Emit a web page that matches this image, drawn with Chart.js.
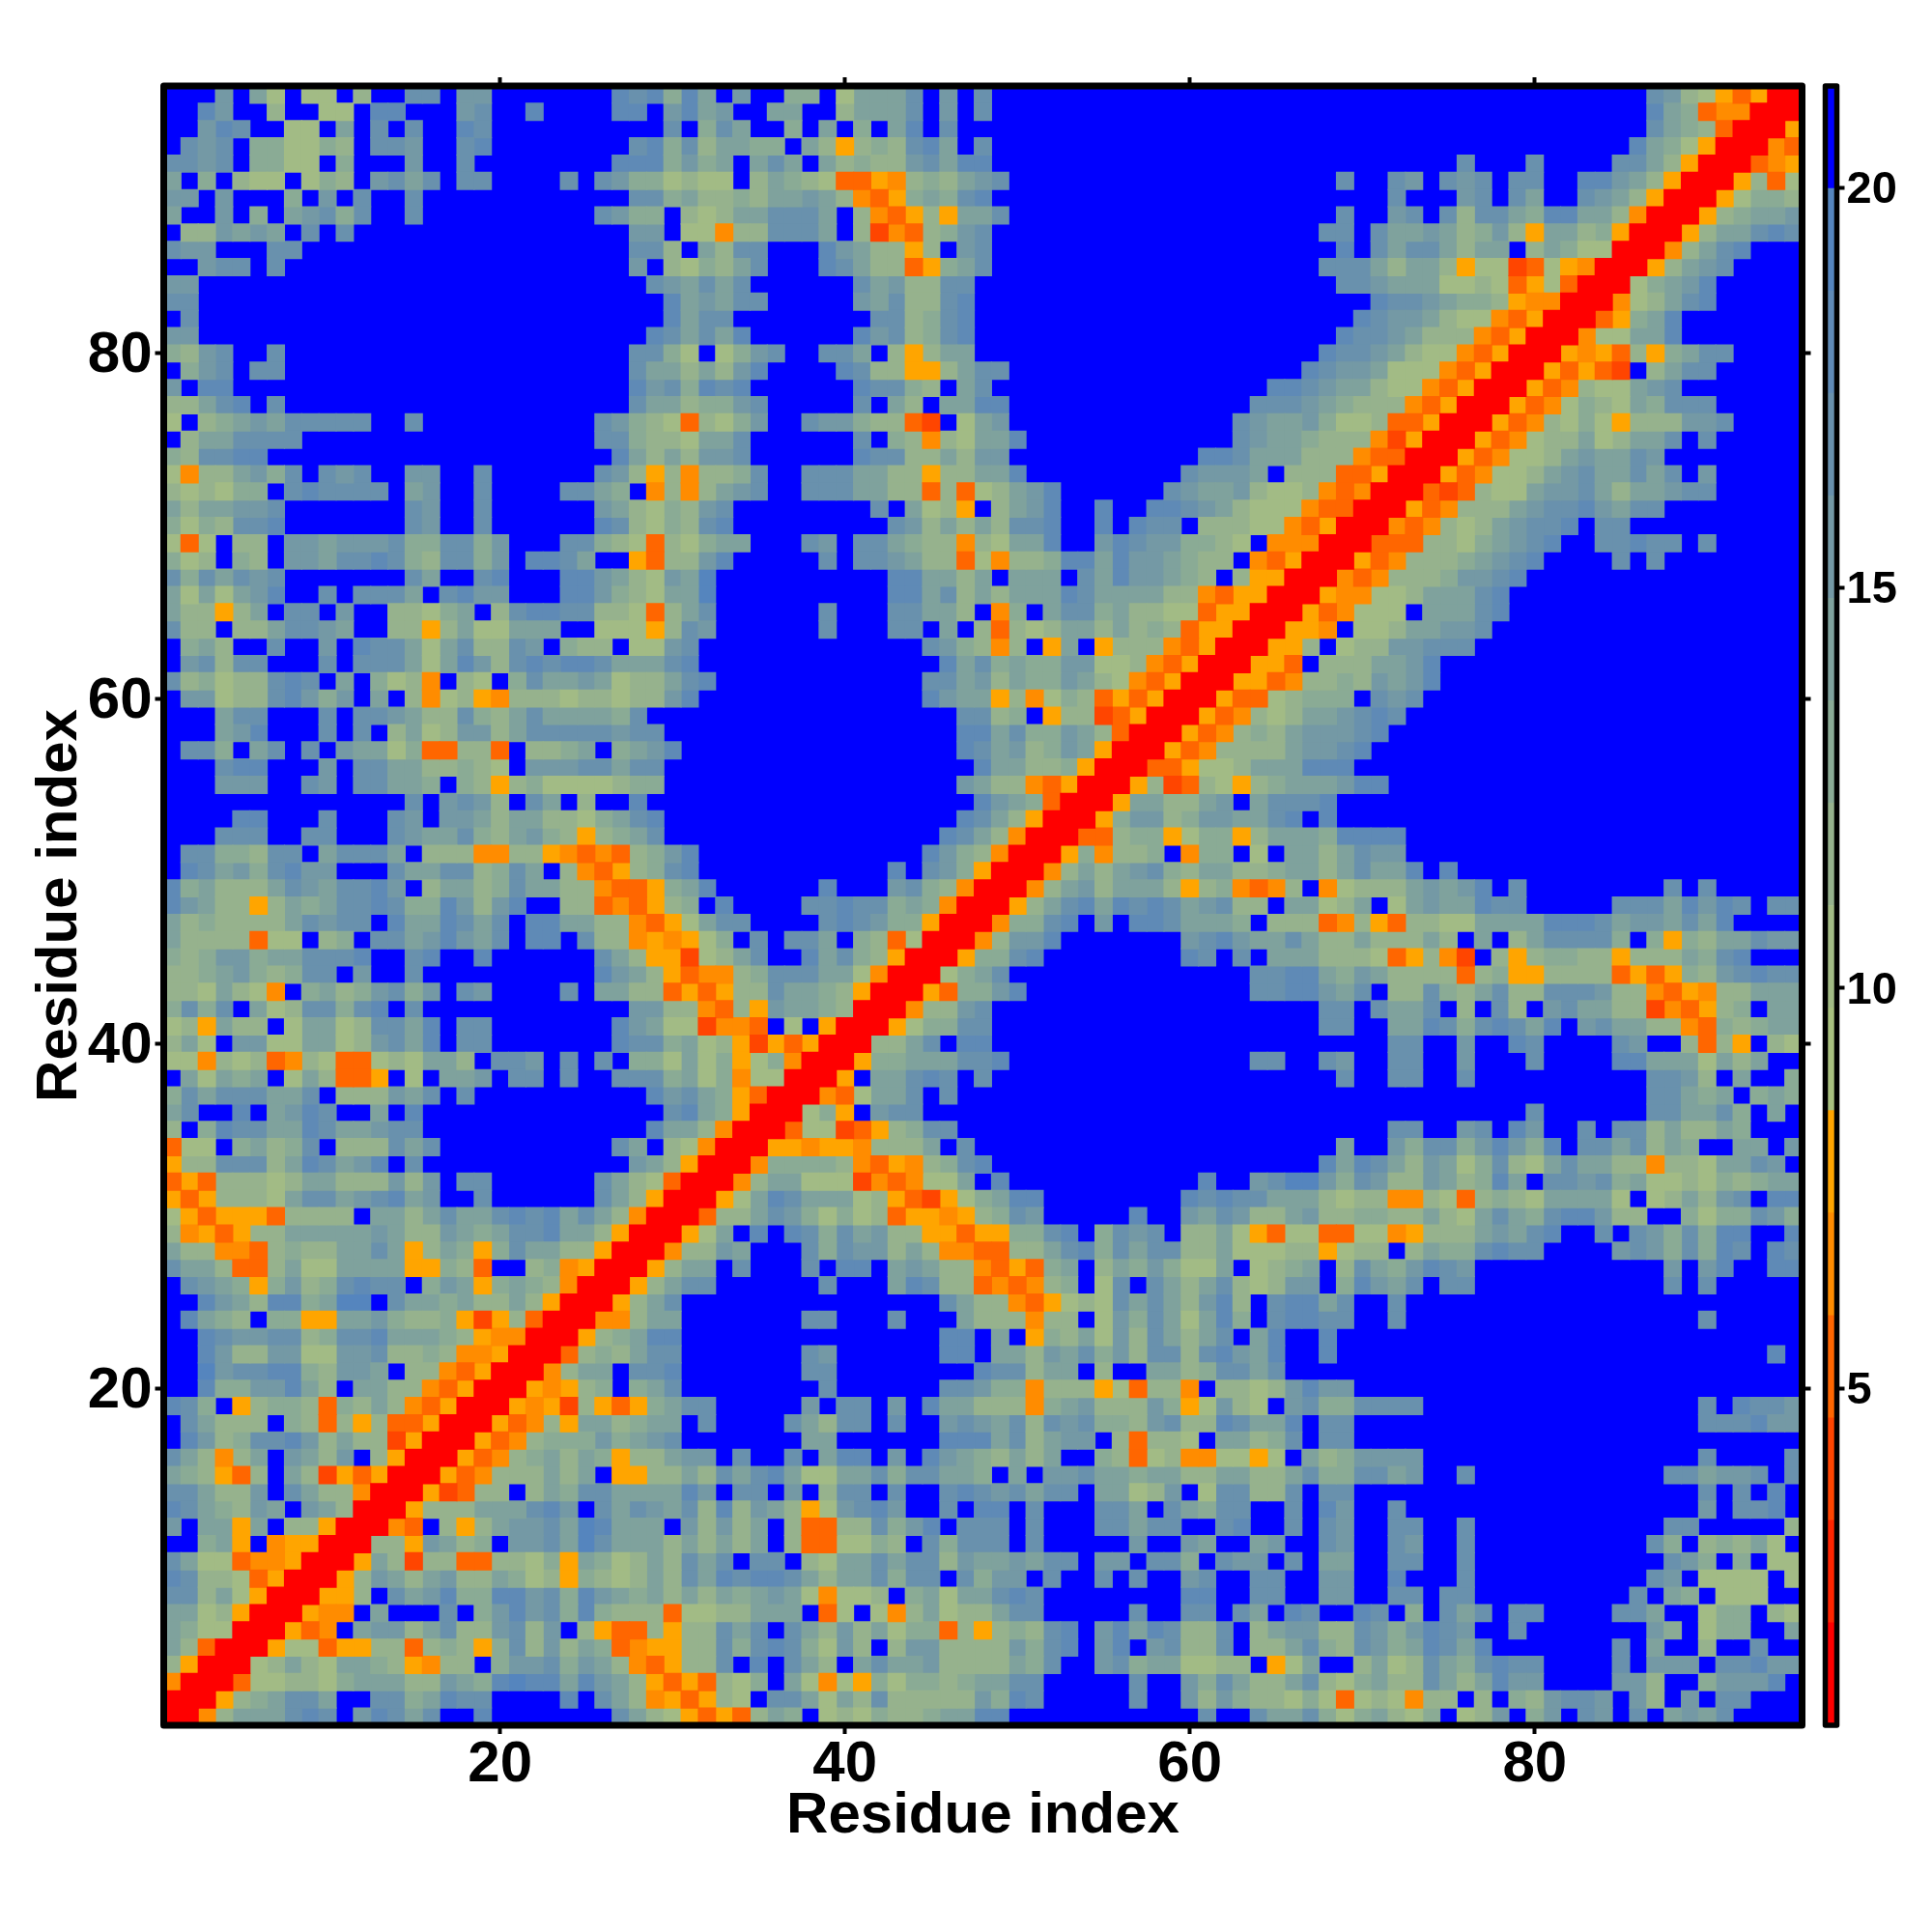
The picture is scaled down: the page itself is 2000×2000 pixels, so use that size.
<!DOCTYPE html>
<html>
<head>
<meta charset="utf-8">
<title>Residue distance map</title>
<script src="https://cdn.jsdelivr.net/npm/chart.js@4"></script>
<style>
body { margin: 0; background: #fff; }
canvas { position: absolute; top: 0; }
#map { left: 0; }
#bar { left: 1880px; }
</style>
</head>
<body>
<canvas id="map" width="1880" height="2000"></canvas>
<canvas id="bar" width="120" height="2000"></canvas>
<script>
// colour level of each cell: 0 (red, close) .. f (blue, far), [n] = n blue cells
// the map is symmetric, so only the part with column <= row is listed
// columns 1-32, rows 95 down to 1
const rowsLeft = [
  'fffbfa7f77f8ffccfbb[7]dcd9da', 'ffdbff8ff77fddfffbcffdffffddfbda', 'ffbdcff77fafcfcffdc[10]cf9',
  'fcbcf997798fccbffcd[8]cd9c8', 'ccbcf9977f9fffbffc[8]ddd9b9', 'af9f877f798fbcacfcc[4]cfcb99787',
  'bbfbfff9fbfcffc[12]cc9a8', 'affbf9fabc9cffc[10]cb99f87', 'f88babafcfc[16]bbf77',
  'cbbfffcc[19]cc8fa', 'ffbccfc[20]bf879', 'bb[26]cbac', 'cc[27]dab', 'fc[27]dac', 'bb[26]dcac',
  '98bcffc[20]cc97f', 'f9bcfcc[20]caa8a', 'bfdd[23]dbc9d', '88acdfc[20]caa89',
  '7f89abacccccffc[10]cb98738', 'f8aacccc[17]cc9887a', '98ccdd[20]da8a8b',
  '7488ab9cfcbcffbbffc[6]cb85848', '878799fcdccccfabffc[4]cca9f4848', 'a8aabbc[7]cbffc[6]ba8798b',
  '9798ccd[7]cbffc[6]dc8798c', '737f88fbbabbbc99cc9bfffcc9873879', '978f98fbbaccdc98cc9bfddcaff5388b',
  'c9cacbc[7]caffcdfffddba87bae', 'a7a7abdffcfcccafcdbbfffddb987aae', 'a8858afccfbff8879af8cddcc88738ac',
  'c88f88accbaff8858a77aaaff77758cb',
  'f9a8ffcffbfdcca7ac88cbf988f77bcf', 'fbc8ccfffcfccca7adb8cdcddcaaacdf', 'c89788cdcfaf9784f87f9caaba788acd',
  'fbb788cdb9bfaf847854888788788bdf', 'fffaccfffcfccba88c98acaaaa9cffff', 'fffabdfffcfcf8a78bb8acccccbccfff',
  'fcc9facfcfbaa7933883f889af9abdff', 'fffcddfffbfccaa88987fbbbccaccfff', 'fffbbbffcbfccaa9f985897777899fff',
  '[14]cfbcb8fcaf8ffdffff', 'ffffddfffcfffcbfbba8aa8879acdfff', 'fffcccffccfffcbaac98ab98589acfff',
  'fcc998ccfacccaf88844885434389bdf', 'fdcab9cdbbfffcaacc89caf843589cdf', 'd9a888acbaccdbf8aa89caa8843359ad',
  'dba8858a9accdc99db8bdff88343589f', 'a898888acbccfdaadcacfddaa884357a', 'a8888377f89fccabdbacfddfc8845457',
  '989bb9aacccdffcdffd[6]ca85527', '889ab989ccfbffc[10]dba8534', '887a874f9a89bc9bfcbffffcfaa88353',
  '9c9cfa78cc9cdfc[12]bb884', '785a88f7aa78ccadfcc[7]dba772', '8a7fbb77aa78bcadfcc[7]dcc9a7',
  '774878348733787aa8fccbfcfcf997a7', 'fa7a9af7a8335f7faabfccfcffccc9a7', '9cacccaacf888bacfc[10]dbca',
  'acffdfabdcffafd[14]cda', '8f9dccaadcaabcc[13]daa8', '377f9a89cf888cac[10]caf874',
  '588ccc8adcabdfc[12]ba850', '35388878aa888b8bfcc[6]ca87300',
  '5358887accabcdabffc[6]ca8500', '75355538888faa8acaacdcdaca8400', '8453588aaaaaba88ba9accdaa8500',
  'a884438988aaca58a959caa88500', 'caa8338a77aaaa55983ff894500', 'fcba959b89cdccf9ba59a98400',
  'ffdba8dd9aeefcaa9a88a8500', 'fda98f9955aab98895258300', 'ffdcbbcc89ccdaaa9854400',
  'ffdb88bb77bbc889844500', 'ffebccdd98bbaf8843500', 'ffd99bbda8faa8843500', 'dc9f58998398a843500',
  'fca888f98385833500', 'fdb89ccdb8a882500', 'ca848afba8bf8500', 'a98538fa8253500', 'cca88bfca88400',
  'dca98bafba800', 'bfaa5af88500', 'ff9a5f45500', 'ca77344500', 'dc8873500', 'cc8a7500', 'aa78500',
  'a97700', 'a8300', '8500', '400', '00', '0'
];
// columns 33-64, rows 95 down to 33
const rowsMiddle = [
  'fbff99f7aaacfbfc[16]', 'bffaaff8aaacfbfc[16]', 'caff9faf9fadfc[18]', 'aa99fa85898cdafc[16]',
  'afacafa8988bcadd[16]', '7f8a9873354898abc[15]', '898aaba84359a9cd[16]', '8aacccaf843585aac[15]',
  '488cccaf824389bc[16]', '8ccfffdba8858fbc[16]', '8acfffdca88359ac[16]', 'ac[6]cab88cc[17]',
  'acc[5]bac88cd[17]', 'c[8]cc89cd[17]', 'ad[6]dbc89cd[17]', '79bcffccaf858aa[17]', '8bd[4]dc88558acc[15]',
  'cd[6]dcc98fac[16]', '9bc[5]cfa8faadd[14]c', '79bffcbb98832f7ab[13]cb', 'ac[6]cf98487aad[12]cb',
  'bc[6]dcc88a8bb[11]ddca', '89cffcccaa88588aad[9]cbbba', 'abcffcccaa8838378abd[6]cbaab8',
  'c[8]cfa785f8abdffdffddcba87', 'd[9]cb8a8a8ccdffdfdccf8887', 'aafffcbfcca988487aadffbdcbb9987f',
  'd[5]cfccba88374889ddadbba988f4', '[10]ddaa8afaaafcadbba98f85', '[10]ddac8a8aaadcaaaa884355',
  '[6]c[3]ccaa8f49facc9a88773550', '[6]c[3]ccfaf83878aa8a89835500',
  '[12]cb9848f5af588843500', '[13]dac9a99bb77843500', '[12]ccab8a99ba8743500', '[12]dbaa584798353500',
  '[14]cc89f58823500', '[14]ddac99ba8300', '[14]dcab89ba500', '[15]daa889500', '[14]ba8843500',
  '[15]dba9300', '[14]dca8500', '[13]dca8400', '[12]db98400', '[10]dfcb9500', '[6]dfffbc98400',
  'dffffccdcc9a9400', 'ccffffcdcb99500', '9fcfccaf983700', '8acffdac98500', '489cccaa7400',
  '588caa98500', '385baa9800', '443f7f500', '85253500', '9579400', '947700', '95300', '9500', '400', '00', '0'
];
// columns 65-95, rows 95 down to 65
const rowsRight = [
  '[22]cb8753500', '[22]da934400', '[22]ca98300', '[21]da97500', '[11]c[3]c[4]cca8500',
  '[4]cffcbfcbcfccffddba8500', '[7]cfffbcfcaffcba8500', '[4]cffbcfc8cca9ddaa8400',
  'fffccfcaaba89b85aa89500', '[4]dfcacca8aaf8a97700', 'fffccca8aa85772375400', '[4]ccbaaa7787357300',
  '[6]dccba99854400', '[5]dcbba87743500', '[4]dccba88843500', 'fffdccba87743500', 'ffdcbba77743500',
  'ddcbaa87743500', 'ccba988843500', 'aab977833500', 'aa988842500', 'aa88843300', 'f88833500',
  '77843400', '7743300', '743500', '44400', '3500', '500', '00', '0'
];

const levelColors = ['#ff0000', '#ff2500', '#ff4500', '#ff6600', '#ff8c00', '#ffa500',
  '#a8c07f', '#a2bb85', '#96b28d', '#8aab95', '#7fa29d', '#7499a5', '#6991ad', '#5f8ab6', '#5585be', '#0000ff'];
const levelBreaks = [0.79, 2.07, 3.35, 4.63, 5.91, 7.19, 8.47, 9.75, 11.03, 12.31, 13.59, 14.87, 16.15, 17.43, 18.71, 19.99, 21.27];
const residueTicks = [20, 40, 60, 80];
const barTicks = [5, 10, 15, 20];
const axisTitle = 'Residue index';

const FONT = '"Liberation Sans", Arial, sans-serif';
const cells = levelColors.map(() => []);

function addRows(rows, firstCol) {
  rows.forEach((text, i) => {
    const row = 95 - i;
    const chars = text.replace(/\[(\d+)\]/g, (m, n) => 'f'.repeat(+n));
    for (let j = 0; j < chars.length; j++) {
      const col = firstCol + j;
      const level = parseInt(chars[j], 16);
      cells[level].push({x: col, y: row});
      if (col !== row) cells[level].push({x: row, y: col});
    }
  });
}
addRows(rowsLeft, 1);
addRows(rowsMiddle, 33);
addRows(rowsRight, 65);

// thick frame with rounded corners round the plot area
const framePlugin = {
  id: 'frame',
  afterDraw(chart, args, opts) {
    const a = chart.chartArea, ctx = chart.ctx;
    ctx.save();
    ctx.strokeStyle = '#000';
    ctx.lineWidth = opts.width;
    ctx.lineJoin = 'round';
    ctx.strokeRect(a.left, a.top, a.right - a.left, a.bottom - a.top);
    ctx.restore();
  }
};

function residueAxis(position, size, showLabels) {
  const horizontal = position === 'bottom' || position === 'top';
  const axis = {
    type: 'linear',
    position: position,
    min: 0.5,
    max: 95.5,
    afterBuildTicks: s => { s.ticks = residueTicks.map(v => ({value: v})); },
    afterFit: s => { if (horizontal) s.height = size; else s.width = size; },
    grid: {drawOnChartArea: false, tickLength: 9, tickWidth: 4, tickColor: '#000'},
    border: {display: false},
    ticks: {
      display: showLabels,
      autoSkip: false,
      maxRotation: 0,
      padding: horizontal ? -4 : 3,
      labelOffset: horizontal ? 0 : 3,
      color: '#000',
      font: {family: FONT, size: 60, weight: 'bold'},
      callback: v => String(v)
    }
  };
  if (showLabels) {
    axis.title = {
      display: true,
      text: axisTitle,
      color: '#000',
      font: {family: FONT, size: 60, weight: 'bold'},
      padding: horizontal ? {top: 0, bottom: 84} : {top: 26, bottom: 0}
    };
  }
  return axis;
}

new Chart(document.getElementById('map'), {
  type: 'scatter',
  plugins: [framePlugin],
  data: {
    datasets: cells.map((points, i) => ({
      data: points,
      pointStyle: 'rect',
      pointRadius: 13.4,
      pointBorderWidth: 0,
      backgroundColor: levelColors[i]
    }))
  },
  options: {
    responsive: false,
    animation: false,
    devicePixelRatio: 1,
    events: [],
    layout: {padding: 0},
    plugins: {legend: {display: false}, tooltip: {enabled: false}, frame: {width: 7}},
    scales: {
      x: residueAxis('bottom', 214, true),
      x2: residueAxis('top', 89, false),
      y: residueAxis('left', 169.5, true),
      y2: residueAxis('right', 14.5, false)
    }
  }
});

new Chart(document.getElementById('bar'), {
  type: 'bar',
  plugins: [framePlugin],
  data: {
    labels: ['level'],
    datasets: levelColors.map((color, i) => ({
      data: [[levelBreaks[i], levelBreaks[i + 1]]],
      backgroundColor: color,
      grouped: false,
      barPercentage: 1,
      categoryPercentage: 1
    }))
  },
  options: {
    responsive: false,
    animation: false,
    devicePixelRatio: 1,
    events: [],
    layout: {padding: {left: 9.5, top: 89, bottom: 214, right: 0}},
    plugins: {legend: {display: false}, tooltip: {enabled: false}, frame: {width: 5.5}},
    scales: {
      x: {display: false},
      y: {
        position: 'right',
        min: levelBreaks[0],
        max: levelBreaks[levelBreaks.length - 1],
        afterBuildTicks: s => { s.ticks = barTicks.map(v => ({value: v})); },
        afterFit: s => { s.width = 98.5; },
        grid: {drawOnChartArea: false, tickLength: 8, tickWidth: 4, tickColor: '#000'},
        border: {display: false},
        ticks: {
          autoSkip: false,
          padding: 2,
          labelOffset: 3,
          color: '#000',
          font: {family: FONT, size: 47, weight: 'bold'},
          callback: v => String(v)
        }
      }
    }
  }
});
</script>
</body>
</html>
